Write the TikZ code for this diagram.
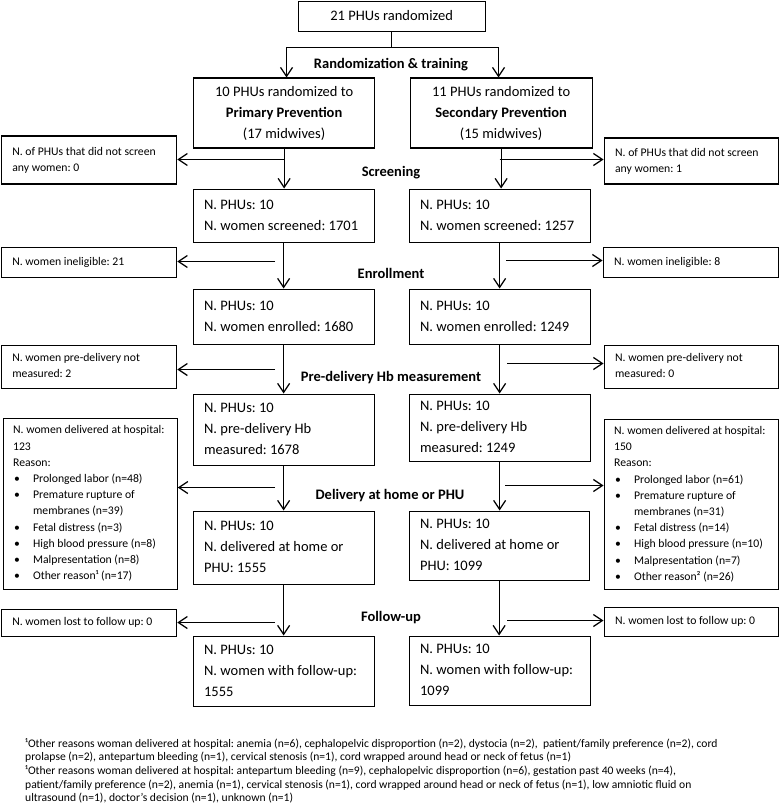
\documentclass[tikz,border=0pt]{standalone}
\usepackage{fontspec}
\setmainfont{Carlito}
\usetikzlibrary{arrows.meta}
\frenchspacing
\newcommand\mfs{\fontsize{14.5}{20.8}\selectfont}
\newcommand\sfs{\fontsize{11.7}{16.2}\selectfont}
\newcommand\ffs{\fontsize{11.6}{13.6}\selectfont}
\newcommand\bul{\makebox[20pt][l]{\hspace{1pt}•}}
\newcommand\ind{\hspace*{20pt}}
\newcommand\lbox[2]{\makebox[#1pt][l]{\begin{tabular}{@{}l@{}}#2\end{tabular}}}
\newcommand\cbox[2]{\makebox[#1pt][c]{\begin{tabular}{@{}c@{}}#2\end{tabular}}}
\tikzset{
  box/.style={draw, line width=1.25pt, anchor=north west, inner ysep=0pt, inner xsep=11pt},
  mainbox/.style={box, font=\mfs},
  sidebox/.style={box, font=\sfs},
  lab/.style={font=\mfs\bfseries, inner sep=0pt},
  arr/.style={line width=1.25pt, -{Straight Barb[length=9pt,width=12pt,line width=1.25pt]}},
  ln/.style={line width=1.25pt}
}
\begin{document}
\begin{tikzpicture}[x=1pt,y=1pt]
\useasboundingbox (0,0) rectangle (779,-805);
% main column boxes
\node[mainbox, minimum width=187, minimum height=30.5] (top) at (297.5,-0.7) {\cbox{165}{21 PHUs randomized}};
\node[mainbox, minimum width=181, minimum height=70] (prim) at (193,-77.5) {\cbox{159}{10 PHUs randomized to\\\textbf{Primary Prevention}\\(17 midwives)}};
\node[mainbox, minimum width=182, minimum height=70] (sec) at (409.5,-77.5) {\cbox{160}{11 PHUs randomized to\\\textbf{Secondary Prevention}\\(15 midwives)}};
\node[mainbox, minimum width=181, minimum height=53] (scrL) at (192.5,-188.5) {\lbox{159}{N. PHUs: 10\\N. women screened: 1701}};
\node[mainbox, minimum width=181, minimum height=53] (scrR) at (408.5,-188.5) {\lbox{159}{N. PHUs: 10\\N. women screened: 1257}};
\node[mainbox, minimum width=181, minimum height=55] (enrL) at (192.5,-288.5) {\lbox{159}{N. PHUs: 10\\N. women enrolled: 1680}};
\node[mainbox, minimum width=181, minimum height=55] (enrR) at (408.5,-288.5) {\lbox{159}{N. PHUs: 10\\N. women enrolled: 1249}};
\node[mainbox, minimum width=181, minimum height=71] (hbL) at (192.5,-393.5) {\lbox{159}{N. PHUs: 10\\N. pre-delivery Hb\\measured: 1678}};
\node[mainbox, minimum width=181, minimum height=67] (hbR) at (408.5,-393.5) {\lbox{159}{N. PHUs: 10\\N. pre-delivery Hb\\measured: 1249}};
\node[mainbox, minimum width=181, minimum height=73] (delL) at (192.5,-510.5) {\lbox{159}{N. PHUs: 10\\N. delivered at home or\\PHU: 1555}};
\node[mainbox, minimum width=180, minimum height=69] (delR) at (408.5,-510.5) {\lbox{158}{N. PHUs: 10\\N. delivered at home or\\PHU: 1099}};
\node[mainbox, minimum width=181, minimum height=70] (fuL) at (192.5,-635.5) {\lbox{159}{N. PHUs: 10\\N. women with follow-up:\\1555}};
\node[mainbox, minimum width=181, minimum height=69] (fuR) at (408.5,-635.5) {\lbox{159}{N. PHUs: 10\\N. women with follow-up:\\1099}};
% side boxes
\node[sidebox, minimum width=175.3, minimum height=48] (nsL) at (0.7,-135.5) {\lbox{153.3}{N. of PHUs that did not screen\\any women: 0}};
\node[sidebox, minimum width=174.5, minimum height=46] (nsR) at (603.5,-137.5) {\lbox{152.5}{N. of PHUs that did not screen\\any women: 1}};
\node[sidebox, minimum width=175.3, minimum height=30] (ineL) at (0.7,-246.5) {\lbox{153.3}{N. women ineligible: 21}};
\node[sidebox, minimum width=175, minimum height=30] (ineR) at (602.5,-246.5) {\lbox{153}{N. women ineligible: 8}};
\node[sidebox, minimum width=175.3, minimum height=43] (pdL) at (0.7,-344.5) {\lbox{153.3}{N. women pre-delivery not\\measured: 2}};
\node[sidebox, minimum width=174.5, minimum height=43] (pdR) at (603.5,-344.5) {\lbox{152.5}{N. women pre-delivery not\\measured: 0}};
\node[sidebox, minimum width=174, minimum height=171, inner xsep=10pt] (hospL) at (2.5,-417.5) {\lbox{154}{N. women delivered at hospital:\\123\\Reason:\\\bul Prolonged labor (n=48)\\\bul Premature rupture of\\\ind membranes (n=39)\\\bul Fetal distress (n=3)\\\bul High blood pressure (n=8)\\\bul Malpresentation (n=8)\\\bul Other reason¹ (n=17)}};
\node[sidebox, minimum width=174, minimum height=170, inner xsep=10pt] (hospR) at (603.5,-418.5) {\lbox{154}{N. women delivered at hospital:\\150\\Reason:\\\bul Prolonged labor (n=61)\\\bul Premature rupture of\\\ind membranes (n=31)\\\bul Fetal distress (n=14)\\\bul High blood pressure (n=10)\\\bul Malpresentation (n=7)\\\bul Other reason² (n=26)}};
\node[sidebox, minimum width=175.3, minimum height=27] (lostL) at (0.7,-608.5) {\lbox{153.3}{N. women lost to follow up: 0}};
\node[sidebox, minimum width=174.5, minimum height=29] (lostR) at (603.5,-606.5) {\lbox{152.5}{N. women lost to follow up: 0}};
% stage labels
\node[lab] (l1) at (391,-65) {Randomization \& training};
\node[lab] (l2) at (391,-173) {Screening};
\node[lab] (l3) at (391,-273) {Enrollment};
\node[lab] (l4) at (391,-378) {Pre-delivery Hb measurement};
\node[lab] (l5) at (390,-496) {Delivery at home or PHU};
\node[lab] (l6) at (391,-618) {Follow-up};
% top split
\coordinate (sL) at (286.5,-47.5);
\coordinate (sR) at (498.5,-47.5);
\draw[ln] (top.south) -- (top.south |- sL);
\draw[ln] (sL) -- (sR);
\draw[arr] (sL) -- (sL |- prim.north);
\draw[arr] (sR) -- (sR |- sec.north);
% main column arrows
\draw[arr] (prim.south) -- (prim.south |- scrL.north);
\draw[arr] (sec.south) -- (sec.south |- scrR.north);
\draw[arr] (scrL.south) -- (enrL.north);
\draw[arr] (scrR.south) -- (enrR.north);
\draw[arr] (enrL.south) -- (hbL.north);
\draw[arr] (enrR.south) -- (hbR.north);
\draw[arr] (hbL.south) -- (delL.north);
\draw[arr] (hbR.south) -- (hbR.south |- delR.north);
\draw[arr] (delL.south) -- (fuL.north);
\draw[arr] (delR.south) -- (delR.south |- fuR.north);
% side arrows
\coordinate (a1L) at (283.5,-159.5);
\coordinate (a1R) at (499.5,-159.5);
\coordinate (a2L) at (275,-261.5);
\coordinate (a2R) at (506,-260.5);
\coordinate (a3L) at (275,-369.5);
\coordinate (a3R) at (507,-363.5);
\coordinate (a4L) at (275,-487.5);
\coordinate (a4R) at (505,-485.5);
\coordinate (a5L) at (275,-622.5);
\coordinate (a5R) at (507,-620.5);
\draw[arr] (a1L) -- (nsL.east |- a1L);
\draw[arr] (a1R) -- (nsR.west |- a1R);
\draw[arr] (a2L) -- (ineL.east |- a2L);
\draw[arr] (a2R) -- (ineR.west |- a2R);
\draw[arr] (a3L) -- (pdL.east |- a3L);
\draw[arr] (a3R) -- (pdR.west |- a3R);
\draw[arr] (a4L) -- (hospL.east |- a4L);
\draw[arr] (a4R) -- (hospR.west |- a4R);
\draw[arr] (a5L) -- (lostL.east |- a5L);
\draw[arr] (a5R) -- (lostR.west |- a5R);
% footnotes
\node[font=\ffs, anchor=north west, inner sep=0pt] (fn) at (25,-737.5) {\lbox{740}{¹Other reasons woman delivered at hospital: anemia (n=6), cephalopelvic disproportion (n=2), dystocia (n=2), \ patient/family preference (n=2), cord\\prolapse (n=2), antepartum bleeding (n=1), cervical stenosis (n=1), cord wrapped around head or neck of fetus (n=1)\\¹Other reasons woman delivered at hospital: antepartum bleeding (n=9), cephalopelvic disproportion (n=6), gestation past 40 weeks (n=4),\\patient/family preference (n=2), anemia (n=1), cervical stenosis (n=1), cord wrapped around head or neck of fetus (n=1), low amniotic fluid on\\ultrasound (n=1), doctor’s decision (n=1), unknown (n=1)}};
\end{tikzpicture}
\end{document}
